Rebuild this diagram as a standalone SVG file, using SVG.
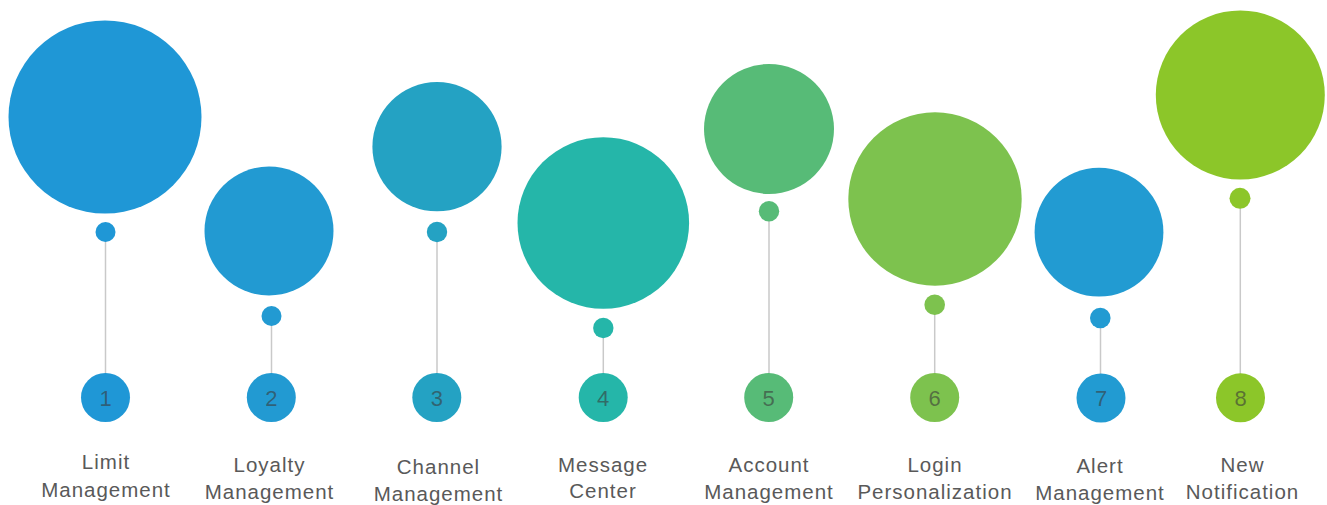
<svg xmlns="http://www.w3.org/2000/svg" width="1327" height="505" viewBox="0 0 1327 505">
  <style>
    .label { font-family: "Liberation Sans", Arial, sans-serif; font-size: 20.5px; letter-spacing: 1px; fill: #595959; text-anchor: middle; }
    .num { font-family: "Liberation Sans", Arial, sans-serif; font-size: 22px; fill: #3a3a3a; fill-opacity: 0.6; text-anchor: middle; }
    .stem { stroke: #c9c9c9; stroke-width: 1.5; fill: none; }
  </style>
  <rect width="1327" height="505" fill="#ffffff"/>

  <!-- stems joining each small dot to its numbered badge -->
  <g id="connectors">
    <line class="stem" x1="105.5" y1="241" x2="105.5" y2="374"/>
    <line class="stem" x1="271.5" y1="325" x2="271.5" y2="374"/>
    <line class="stem" x1="437" y1="241" x2="437" y2="374"/>
    <line class="stem" x1="603.3" y1="337" x2="603.3" y2="374"/>
    <line class="stem" x1="769" y1="220" x2="769" y2="374"/>
    <line class="stem" x1="934.7" y1="314" x2="934.7" y2="374"/>
    <line class="stem" x1="1100.5" y1="327" x2="1100.5" y2="374"/>
    <line class="stem" x1="1240.3" y1="208" x2="1240.3" y2="374"/>
  </g>

  <g id="node-1">
    <circle cx="105" cy="117" r="96.5" fill="#1f97d6"/>
    <circle cx="105.5" cy="232" r="10" fill="#1f97d6"/>
    <circle cx="105.5" cy="397.5" r="24.5" fill="#1f97d6"/>
    <text class="num" x="105.5" y="405.5">1</text>
    <text class="label" x="106" y="469">Limit</text>
    <text class="label" x="106" y="496.5">Management</text>
  </g>

  <g id="node-2">
    <circle cx="269" cy="231" r="64.5" fill="#229ad2"/>
    <circle cx="271.5" cy="316" r="10" fill="#229ad2"/>
    <circle cx="271.3" cy="397.5" r="24.5" fill="#229ad2"/>
    <text class="num" x="271.3" y="405.5">2</text>
    <text class="label" x="269.5" y="472">Loyalty</text>
    <text class="label" x="269.5" y="499">Management</text>
  </g>

  <g id="node-3">
    <circle cx="437" cy="146.7" r="64.6" fill="#24a2c3"/>
    <circle cx="437" cy="232" r="10.2" fill="#24a2c3"/>
    <circle cx="436.8" cy="397.5" r="24.5" fill="#24a2c3"/>
    <text class="num" x="436.8" y="405.5">3</text>
    <text class="label" x="438.5" y="473.5">Channel</text>
    <text class="label" x="438.5" y="501">Management</text>
  </g>

  <g id="node-4">
    <circle cx="603.3" cy="223" r="85.8" fill="#25b6a9"/>
    <circle cx="603.3" cy="328" r="10.2" fill="#25b6a9"/>
    <circle cx="603.2" cy="397.5" r="24.5" fill="#25b6a9"/>
    <text class="num" x="603.2" y="405.5">4</text>
    <text class="label" x="603" y="471.5">Message</text>
    <text class="label" x="603" y="498">Center</text>
  </g>

  <g id="node-5">
    <circle cx="769" cy="129" r="65" fill="#57bb77"/>
    <circle cx="769" cy="211.3" r="10.2" fill="#57bb77"/>
    <circle cx="768.7" cy="397.5" r="24.5" fill="#57bb77"/>
    <text class="num" x="768.7" y="405.5">5</text>
    <text class="label" x="769" y="471.5">Account</text>
    <text class="label" x="769" y="498.5">Management</text>
  </g>

  <g id="node-6">
    <circle cx="935" cy="199" r="86.7" fill="#7dc24e"/>
    <circle cx="934.7" cy="304.7" r="10.3" fill="#7dc24e"/>
    <circle cx="934.7" cy="397.5" r="24.5" fill="#7dc24e"/>
    <text class="num" x="934.7" y="405.5">6</text>
    <text class="label" x="935" y="471.5">Login</text>
    <text class="label" x="935" y="498.5">Personalization</text>
  </g>

  <g id="node-7">
    <circle cx="1099" cy="232.2" r="64.4" fill="#229bd2"/>
    <circle cx="1100.3" cy="318" r="10.3" fill="#229bd2"/>
    <circle cx="1101" cy="398" r="24.5" fill="#229bd2"/>
    <text class="num" x="1101" y="406">7</text>
    <text class="label" x="1100" y="472.5">Alert</text>
    <text class="label" x="1100" y="499.5">Management</text>
  </g>

  <g id="node-8">
    <circle cx="1240.3" cy="95" r="84.5" fill="#8cc629"/>
    <circle cx="1240" cy="198.3" r="10.5" fill="#8cc629"/>
    <circle cx="1240.5" cy="397.8" r="24.5" fill="#8cc629"/>
    <text class="num" x="1240.5" y="405.8">8</text>
    <text class="label" x="1242.5" y="471.5">New</text>
    <text class="label" x="1242.5" y="498.5">Notification</text>
  </g>
</svg>
